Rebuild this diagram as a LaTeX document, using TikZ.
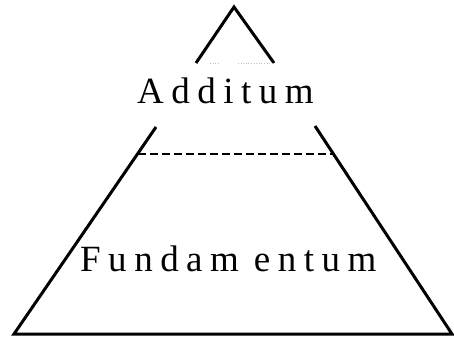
\documentclass[tikz,border=0pt]{standalone}
\usepackage{fontspec}
\setmainfont{Liberation Serif}
\newcommand{\ls}{\kern 7.5pt}
\begin{document}
\begin{tikzpicture}[x=1pt,y=-1pt,
  edge/.style={line width=3pt,line cap=butt},
  lbl/.style={font=\fontsize{37}{40}\selectfont,inner sep=0pt,anchor=base west}]
\useasboundingbox (0,0) rectangle (454,337);
% top triangle
\coordinate (apex) at (234,7);
\coordinate (tl) at (196,63);
\coordinate (tr) at (274,63);
\draw[edge,line join=miter] (tl) -- (apex) -- (tr);
\draw[gray!50,line width=0.6pt,dotted] (210,63) -- (220,63);
\draw[gray!50,line width=0.6pt,dotted] (238,63) -- (272,63);
\node[lbl] (add) at (137,103) {A\ls d\ls d\ls i\ls t\ls u\ls m};
% trapezoid
\coordinate (ul) at (156,127);
\coordinate (ur) at (315,126);
\coordinate (bl) at (14,334);
\coordinate (br) at (452,334);
\coordinate (dl) at (137.5,154);
\coordinate (dr) at (333,154);
\draw[edge,line join=miter] (ul) -- (bl) -- (br) -- (ur);
\draw[line width=2.6pt,dash pattern=on 8pt off 4pt] (dl) -- (dr);
\node[lbl] (fund) at (80,271) {F\ls u\ls n\ls d\ls a\ls m\kern 15pt e\ls n\ls t\ls u\ls m};
\end{tikzpicture}
\end{document}
